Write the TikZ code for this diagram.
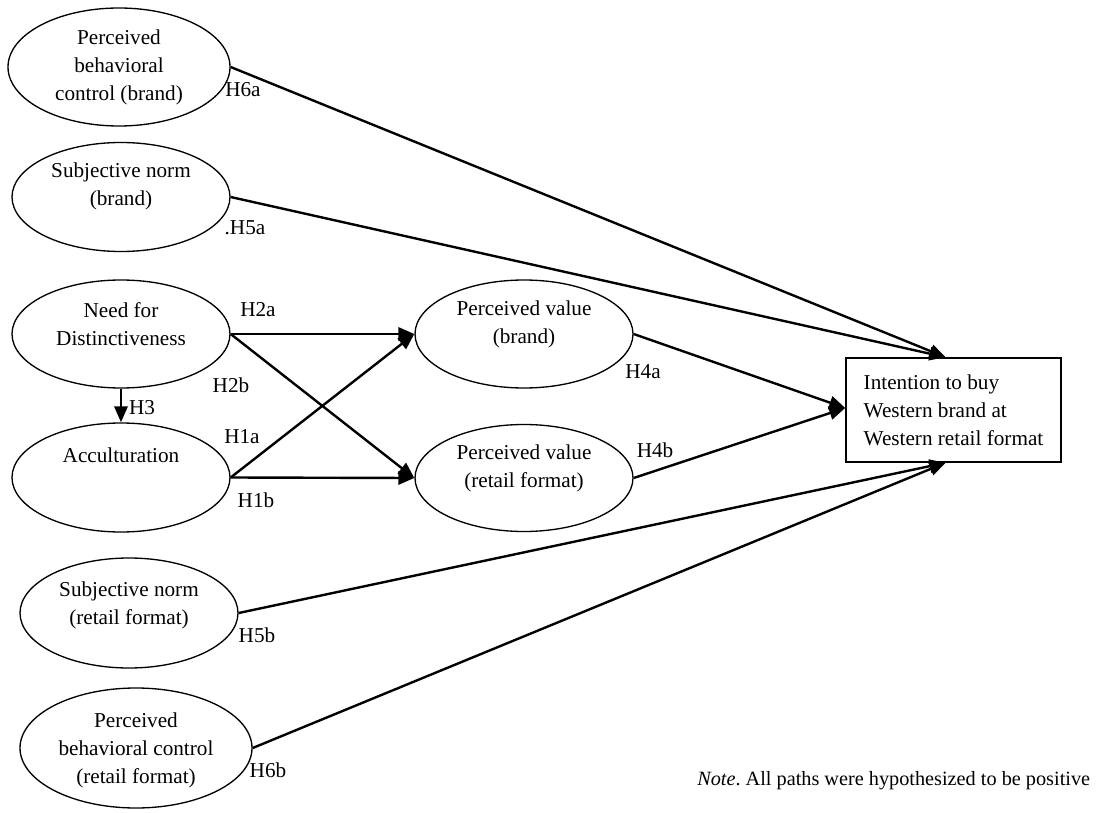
\documentclass[tikz,border=0pt]{standalone}
\usepackage{fontspec}
\setmainfont{Liberation Serif}
\usepackage{tikz}
\usetikzlibrary{shapes,arrows.meta}

\tikzset{
  construct/.style 2 args={ellipse, draw, line width=1pt, inner sep=0pt,
    minimum width=#1*0.75pt, minimum height=#2*0.75pt},
  txt/.style={align=center, inner sep=0pt, font=\fontsize{15.9}{21}\selectfont},
  hyp/.style={inner sep=0pt, font=\fontsize{15.9}{21}\selectfont},
  path/.style={line width=1.8pt, -{Triangle[length=12pt,width=10pt]}},
}

\begin{document}
\begin{tikzpicture}[x=0.75pt, y=-0.75pt]
  \useasboundingbox[fill=white] (0,0) rectangle (1096,813);

  % constructs
  \node[construct={222}{118}, label={[txt]center:{Perceived\\behavioral\\control (brand)}}] (pbcB) at (119,67) {};
  \node[construct={218}{109}, label={[txt,yshift=7.9pt]center:{Subjective norm\\(brand)}}] (snB) at (121,197) {};
  \node[construct={218}{108}, label={[txt,yshift=7.5pt]center:{Need for\\Distinctiveness}}] (nfd) at (121,334) {};
  \node[construct={218}{109}, label={[txt,yshift=16.5pt]center:{Acculturation}}] (acc) at (121,477.5) {};
  \node[construct={218}{108}, label={[txt,yshift=7.5pt]center:{Perceived value\\(brand)}}] (pvB) at (524,334) {};
  \node[construct={218}{107}, label={[txt,yshift=7.5pt]center:{Perceived value\\(retail format)}}] (pvR) at (524,478) {};
  \node[construct={218}{110}, label={[txt,yshift=6pt]center:{Subjective norm\\(retail format)}}] (snR) at (129,613) {};
  \node[construct={232}{120}, label={[txt,yshift=-1.5pt]center:{Perceived\\behavioral control\\(retail format)}}] (pbcR) at (136,748) {};

  % outcome
  \node[draw, line width=1.2pt, txt, align=left, minimum width=215*0.75pt,
        minimum height=104*0.75pt] (intent) at (953.5,410)
        {Intention to buy\\Western brand at\\Western retail format};

  % paths
  \draw[path] (pbcB.east) -- ([xshift=-6pt]intent.north);
  \draw[path] (snB.east) -- ([xshift=-6pt]intent.north);
  \draw[path] (nfd.east) -- (pvB.west);
  \draw[path] (nfd.east) -- (pvR.west);
  \draw[path] (acc.east) -- (pvB.west);
  \draw[path] (acc.east) -- (pvR.west);
  \draw[path] (nfd.south) -- (acc.north);
  \draw[path] (pvB.east) -- ([yshift=1.5pt]intent.west);
  \draw[path] (pvR.east) -- ([yshift=1.5pt]intent.west);
  \draw[path] (snR.east) -- ([xshift=-6pt]intent.south);
  \draw[path] (pbcR.east) -- ([xshift=-6pt]intent.south);

  % hypotheses
  \node[hyp] (h6a) at (243,90) {H6a};
  \node[hyp] (h5a) at (245,228) {.H5a};
  \node[hyp] (h2a) at (258,310) {H2a};
  \node[hyp] (h2b) at (231,385) {H2b};
  \node[hyp] (h3) at (142,408) {H3};
  \node[hyp] (h1a) at (242,437) {H1a};
  \node[hyp] (h1b) at (256,500) {H1b};
  \node[hyp] (h4a) at (643,372) {H4a};
  \node[hyp] (h4b) at (655,450) {H4b};
  \node[hyp] (h5b) at (257,635) {H5b};
  \node[hyp] (h6b) at (268,770) {H6b};

  % note
  \node[hyp, anchor=base west, font=\fontsize{15.2}{20}\selectfont\frenchspacing] (note) at (697,785)
        {\textit{Note}. All paths were hypothesized to be positive};
\end{tikzpicture}
\end{document}
